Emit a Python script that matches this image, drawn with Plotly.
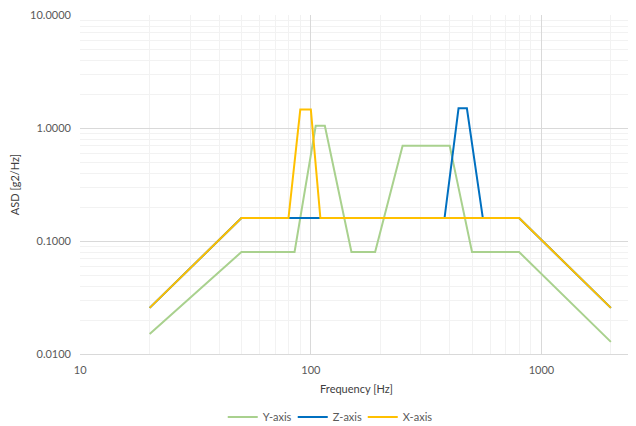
import plotly.graph_objects as go

# Data
freq_y = [20, 50, 85, 105, 115, 150, 190, 250, 400, 500, 800, 2000]
asd_y = [0.015, 0.08, 0.08, 1.05, 1.05, 0.08, 0.08, 0.70, 0.70, 0.08, 0.08, 0.0128]

freq_z = [20, 50, 380, 437, 475, 557, 800, 2000]
asd_z = [0.0256, 0.16, 0.16, 1.5, 1.5, 0.16, 0.16, 0.0256]

freq_x = [20, 50, 80, 90, 100, 110, 800, 2000]
asd_x = [0.0256, 0.16, 0.16, 1.46, 1.46, 0.16, 0.16, 0.0256]

y_tickvals = [0.01, 0.1, 1, 10]
y_ticktext = ["0.0100", "0.1000", "1.0000", "10.0000"]
x_tickvals = [10, 100, 1000]
x_ticktext = ["10", "100", "1000"]

fig = go.Figure()
fig.add_trace(go.Scatter(x=freq_y, y=asd_y, mode="lines", name="Y-axis",
                         line=dict(color="#A9D18E", width=2)))
fig.add_trace(go.Scatter(x=freq_z, y=asd_z, mode="lines", name="Z-axis",
                         line=dict(color="#0070C0", width=2)))
fig.add_trace(go.Scatter(x=freq_x, y=asd_x, mode="lines", name="X-axis",
                         line=dict(color="#FFC000", width=2)))

font_family = "Lato, Liberation Sans, sans-serif"

# The page body has an 8px margin, so the figure is sized to fit the window.
fig.update_layout(
    width=628, height=418,
    margin=dict(l=72, r=3, t=7, b=72, autoexpand=False),
    paper_bgcolor="white", plot_bgcolor="white",
    font=dict(family=font_family, size=11, color="#595959"),
    showlegend=True,
    legend=dict(orientation="h", x=0.448, xanchor="center", y=-0.186, yanchor="middle",
                font=dict(size=11, color="#595959"), itemwidth=30, tracegroupgap=0,
                entrywidth=25, entrywidthmode="pixels"),
    xaxis=dict(
        type="log", range=[0.999, 3.397], automargin=False,
        tickvals=x_tickvals, ticktext=x_ticktext,
        showgrid=True, gridcolor="#D9D9D9", gridwidth=1,
        minor=dict(dtick="D1", showgrid=True, gridcolor="#F2F2F2", gridwidth=1, ticks=""),
        showline=True, linecolor="#D9D9D9", linewidth=1,
        ticks="", zeroline=False, ticklabelstandoff=6, ticklabeloverflow="allow",
        title=dict(text="Frequency [Hz]", font=dict(size=11, color="#404040"), standoff=10),
        tickfont=dict(size=11, color="#595959"),
    ),
    yaxis=dict(
        type="log", range=[-2, 1.002], automargin=False,
        tickvals=y_tickvals, ticktext=y_ticktext,
        showgrid=True, gridcolor="#D9D9D9", gridwidth=1,
        minor=dict(dtick="D1", showgrid=True, gridcolor="#F2F2F2", gridwidth=1, ticks=""),
        showline=False, ticks="", zeroline=False, ticklabelstandoff=8, ticklabeloverflow="allow",
        title=dict(text="ASD [g2/Hz]", font=dict(size=11, color="#404040"), standoff=9),
        tickfont=dict(size=11, color="#595959"),
    ),
)

fig.write_html("out.html")
